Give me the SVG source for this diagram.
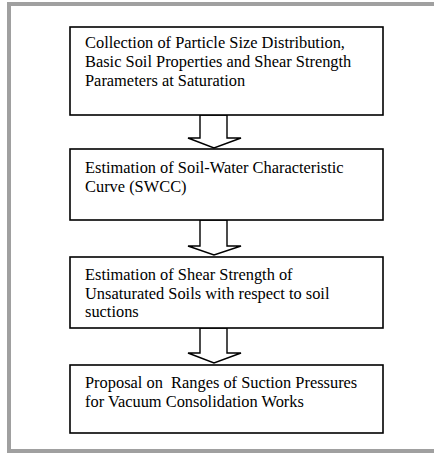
<svg xmlns="http://www.w3.org/2000/svg" width="434" height="460" viewBox="0 0 434 460">
<style>
.box{fill:#fff;stroke:#000;stroke-width:1.6}
.arr{fill:#fff;stroke:#000;stroke-width:1.4;stroke-linejoin:miter}
.t{font-family:"Liberation Serif",serif;font-size:16.4px;fill:#000;white-space:pre}
.frame{fill:none;stroke:#a0a0a0;stroke-width:4}
</style>
<rect width="434" height="460" fill="#fff"/>
<path class="frame" d="M434,4 H9 V451 H434"/>
<g id="connectors">
<polygon class="arr" points="200,115 200,138 188,138 214,148 241,138 227,138 227,115"/>
<polygon class="arr" points="200,220 200,246 188,246 214,255 241,246 227,246 227,220"/>
<polygon class="arr" points="200,328 200,353 188,353 214,363 241,353 227,353 227,328"/>
</g>
<g id="node1">
<rect class="box" x="70" y="27" width="313" height="88"/>
<text class="t" x="85" y="48">Collection of Particle Size Distribution,</text>
<text class="t" x="85" y="67">Basic Soil Properties and Shear Strength</text>
<text class="t" x="85" y="86">Parameters at Saturation</text>
</g>
<g id="node2">
<rect class="box" x="70" y="149" width="313" height="71"/>
<text class="t" x="85" y="173">Estimation of Soil-Water Characteristic</text>
<text class="t" x="85" y="192">Curve (SWCC)</text>
</g>
<g id="node3">
<rect class="box" x="70" y="257" width="313" height="71"/>
<text class="t" x="85" y="280">Estimation of Shear Strength of</text>
<text class="t" x="85" y="299">Unsaturated Soils with respect to soil</text>
<text class="t" x="85" y="317">suctions</text>
</g>
<g id="node4">
<rect class="box" x="70" y="365" width="313" height="68"/>
<text class="t" x="85" y="388" xml:space="preserve">Proposal on  Ranges of Suction Pressures</text>
<text class="t" x="85" y="407">for Vacuum Consolidation Works</text>
</g>
</svg>
